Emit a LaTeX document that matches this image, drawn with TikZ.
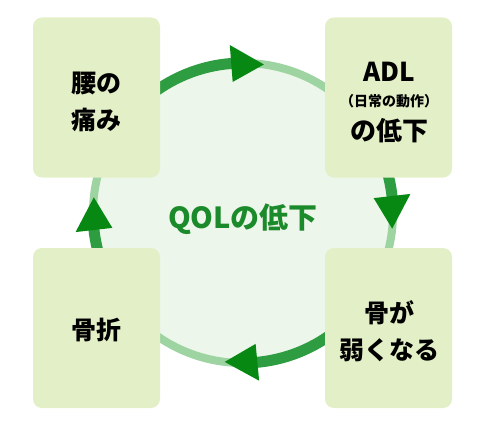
\documentclass[tikz,border=0pt]{standalone}
\usepackage{fontspec}
\setmainfont{Noto Sans CJK JP}[BoldFont={Noto Sans CJK JP Black}]
\definecolor{boxfill}{HTML}{E3EFC6}
\definecolor{circfill}{HTML}{EDF6EA}
\definecolor{ringlight}{HTML}{9ED3A2}
\definecolor{arcdark}{HTML}{2E9C40}
\definecolor{headdark}{HTML}{068812}
\definecolor{qolgreen}{HTML}{1B8A2A}
\tikzset{
  stagebox/.style={fill=boxfill, rounded corners=9pt, minimum width=127pt, minimum height=160pt, inner sep=0pt},
  boxtext/.style={font=\bfseries\fontsize{25}{37}\selectfont, align=center, text=black},
  darkarc/.style={draw=arcdark, line width=11pt},
}
\newcommand{\ArrowHead}[1]{%
  \fill[headdark] ($(c)+(#1:150)$) -- ($(c)+(#1+12.5:168.5)$) -- ($(c)+(#1+12.5:131.5)$) -- cycle;}
\usetikzlibrary{calc}
\begin{document}
\begin{tikzpicture}[x=1pt,y=1pt]
\useasboundingbox (0,0) rectangle (484,421);
\coordinate (c) at (243,208);
\fill[circfill] (c) circle[radius=150];
\draw[ringlight, line width=8pt] (c) circle[radius=150];
% dark arcs
\draw[darkarc] ($(c)+(128:150)$) arc[start angle=128, end angle=92, radius=150];
\draw[darkarc] ($(c)+(20:150)$) arc[start angle=20, end angle=4, radius=150];
\draw[darkarc] ($(c)+(-50:150)$) arc[start angle=-50, end angle=-86, radius=150];
\draw[darkarc] ($(c)+(200:150)$) arc[start angle=200, end angle=184, radius=150];
% heads
\ArrowHead{82}
\ArrowHead{-6}
\ArrowHead{-97}
\ArrowHead{174}
% boxes
\node[stagebox] (tl) at (96.5,323.5) {};
\node[stagebox] (tr) at (388.5,323.5) {};
\node[stagebox] (bl) at (96.5,93) {};
\node[stagebox] (br) at (388.5,93) {};
\node[boxtext] (tlt) at (96,319) {腰の\\痛み};
\node[boxtext, font=\bfseries\fontsize{26}{26}\selectfont] (adl) at (389,349) {ADL};
\node[font=\bfseries\fontsize{14}{14}\selectfont] (adlsub) at (389,320) {（日常の動作）};
\node[boxtext, font=\bfseries\fontsize{26}{26}\selectfont] (adlt) at (389,290) {の低下};
\node[boxtext] (blt) at (96,91) {骨折};
\node[boxtext] (brt) at (389,90) {骨が\\弱くなる};
\node[font=\bfseries\fontsize{29}{29}\selectfont, text=qolgreen] (qol) at (243,202) {QOLの低下};
\end{tikzpicture}
\end{document}
